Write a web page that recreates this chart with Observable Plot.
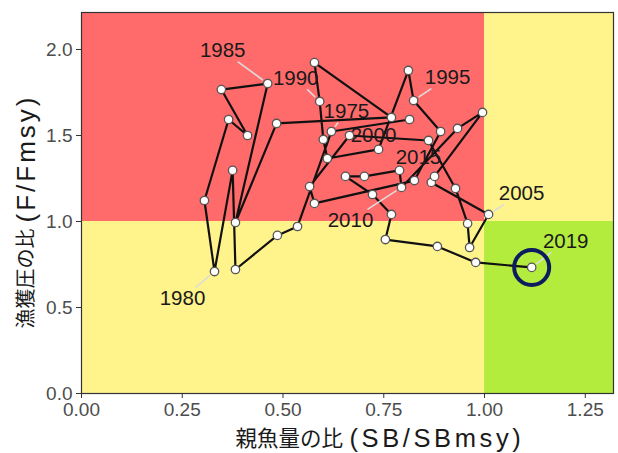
<!DOCTYPE html>
<html><head><meta charset="utf-8">
<script src="https://cdn.jsdelivr.net/npm/d3@7"></script>
<script src="https://cdn.jsdelivr.net/npm/@observablehq/plot@0.6"></script>
<style>body{margin:0;background:#fff}svg{display:block}</style>
</head><body><div id="chart"></div>
<script>
const years = d3.range(1974, 2020);
const sbRatio = [0.814,0.620,0.536,0.486,0.382,0.375,0.330,0.305,0.365,0.412,0.347,0.462,0.382,0.484,0.769,0.578,
                 0.591,0.600,0.610,0.737,0.811,0.824,0.891,0.826,0.578,0.566,0.665,0.861,0.928,0.958,0.963,1.010,
                 0.868,0.876,0.995,0.933,0.794,0.789,0.702,0.655,0.722,0.769,0.754,0.883,0.978,1.117];
const fRatio  = [1.593,1.523,0.971,0.919,0.721,1.297,0.709,1.122,1.593,1.500,1.767,1.802,0.994,1.570,1.605,1.924,
                 1.698,1.477,1.366,1.419,1.878,1.703,1.523,1.238,1.105,1.203,1.500,1.471,1.192,0.988,0.849,1.041,
                 1.227,1.262,1.634,1.541,1.198,1.297,1.262,1.262,1.157,1.041,0.895,0.855,0.762,0.733];
const labelYears = [1975,1980,1985,1990,1995,2000,2005,2010,2015,2019];
const leaderYears = [1975,1980,1985,1990,1995,2005,2010,2019];
const xTicks = [0, 0.25, 0.5, 0.75, 1.0, 1.25];
const yTicks = [0, 0.5, 1.0, 1.5, 2.0];
const xTitleJa = "親魚量の比", xTitleEn = "(SB/SBmsy)";
const yTitleJa = "漁獲圧の比", yTitleEn = "(F/Fmsy)";
const sbRef = 1, fRef = 1;

const data = years.map((yr, i) => ({year: yr, sb: sbRatio[i], f: fRatio[i]}));
const xMax = 1.32, yMax = 2.215;
const zones = [
  {x1: 0, x2: sbRef, y1: fRef, y2: yMax, fill: "#ff6a6a"},
  {x1: sbRef, x2: xMax, y1: fRef, y2: yMax, fill: "#fff38c"},
  {x1: 0, x2: sbRef, y1: 0, y2: fRef, fill: "#fff38c"},
  {x1: sbRef, x2: xMax, y1: 0, y2: fRef, fill: "#b4ec3e"}
];
// label placement (pixels, relative to the point)
const offs = {1975:[15,-20],1980:[-32,27],1985:[-45,-33],1990:[-24,-23],1995:[34,-23],2000:[24,0],
              2005:[33,-21],2010:[-51,33],2015:[27,-57],2019:[34,-26]};
const pxX = 532 / xMax, pxY = 381 / yMax;
const labelMarks = [];
for (const yr of labelYears) {
  const d = data.find(e => e.year === yr);
  if (!d) continue;
  const [dx, dy] = offs[yr];
  if (leaderYears.includes(yr)) {
    const len = Math.hypot(dx, dy);
    const t = Math.min(22 / Math.abs(dx || 1e-6), 11 / Math.abs(dy || 1e-6));
    const k0 = 6 / len, k1 = 1 - t;
    labelMarks.push(Plot.link([d], {
      x1: e => e.sb + dx * k0 / pxX, y1: e => e.f - dy * k0 / pxY,
      x2: e => e.sb + dx * k1 / pxX, y2: e => e.f - dy * k1 / pxY,
      stroke: "#dcdcdc", strokeWidth: 1.6
    }));
  }
  labelMarks.push(Plot.text([d], {x: "sb", y: "f", text: e => String(e.year), dx, dy,
    fontSize: 20.5, fill: "#1a1a1a", fontFamily: "Liberation Sans, Arial, sans-serif"}));
}
const last = data[data.length - 1];
const jaFont = "'Noto Sans CJK JP', sans-serif";
const enFont = "Liberation Sans, Arial, sans-serif";

const chart = Plot.plot({
  width: 618, height: 453,
  marginLeft: 81, marginRight: 5, marginTop: 12, marginBottom: 60,
  x: {domain: [0, xMax]},
  y: {domain: [0, yMax]},
  style: {fontFamily: enFont, background: "white", color: "#4d4d4d"},
  marks: [
    Plot.rect(zones, {x1: "x1", x2: "x2", y1: "y1", y2: "y2", fill: d => d.fill}),
    Plot.axisX({ticks: xTicks, tickFormat: ".2f", tickSize: 5, tickPadding: 4, fontSize: 19, label: null, stroke: "#333"}),
    Plot.axisY({ticks: yTicks, tickFormat: ".1f", tickSize: 5, tickPadding: 4, fontSize: 19, label: null, stroke: "#333"}),
    Plot.line(data, {x: "sb", y: "f", stroke: "#111", strokeWidth: 2.2}),
    Plot.dot(data, {x: "sb", y: "f", r: 4.2, fill: "white", stroke: "#555", strokeWidth: 1.3}),
    ...labelMarks,
    Plot.dot([last], {x: "sb", y: "f", r: 17.5, fill: "none", stroke: "#0c1c5e", strokeWidth: 4}),
    Plot.frame({stroke: "#333", strokeWidth: 1.2}),
    Plot.text([xTitleJa], {frameAnchor: "bottom-left", dx: 154, dy: 46, textAnchor: "start", lineAnchor: "middle",
      fontSize: 21.5, fill: "#1a1a1a", fontFamily: jaFont}),
    Plot.text([xTitleEn], {frameAnchor: "bottom-left", dx: 268, dy: 45, textAnchor: "start", lineAnchor: "middle",
      fontSize: 25.5, fill: "#1a1a1a", fontFamily: enFont}),
    Plot.text([yTitleJa], {frameAnchor: "top-left", rotate: -90, dx: -55, dy: 316, textAnchor: "start", lineAnchor: "middle",
      fontSize: 20, fill: "#1a1a1a", fontFamily: jaFont}),
    Plot.text([yTitleEn], {frameAnchor: "top-left", rotate: -90, dx: -55, dy: 210, textAnchor: "start", lineAnchor: "middle",
      fontSize: 26, fill: "#1a1a1a", fontFamily: enFont})
  ]
});
d3.select(chart).selectAll("text").each(function() {
  const t = this.textContent;
  if (t === xTitleEn) this.setAttribute("letter-spacing", "3.6");
  if (t === yTitleEn) this.setAttribute("letter-spacing", "3");
});
document.getElementById("chart").appendChild(chart);
</script>
</body></html>
